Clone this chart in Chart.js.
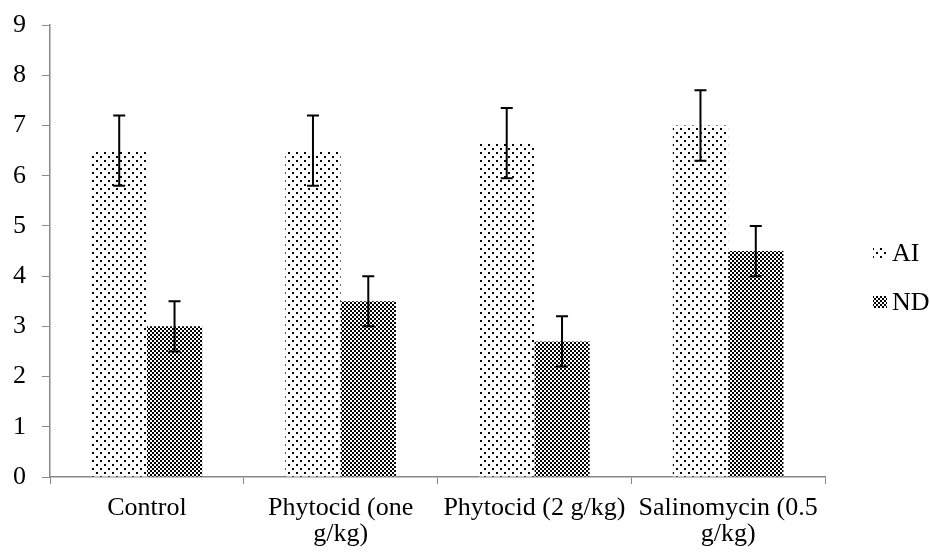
<!DOCTYPE html>
<html><head><meta charset="utf-8">
<script src="https://cdn.jsdelivr.net/npm/chart.js@4.4.0/dist/chart.umd.min.js"></script>
<style>html,body{margin:0;padding:0;background:#fff;}#wrap{width:930px;height:553px;}</style>
</head><body><div id="wrap"><canvas id="c" width="930" height="553"></canvas></div>
<script>
const categories = [["Control"], ["Phytocid (one", "g/kg)"], ["Phytocid (2 g/kg)"], ["Salinomycin (0.5", "g/kg)"]];
const seriesNames = ["AI", "ND"];
const aiValues = [6.5, 6.5, 6.65, 7.0];
const aiErrors = [0.7, 0.7, 0.7, 0.7];
const ndValues = [3.0, 3.5, 2.7, 4.5];
const ndErrors = [0.5, 0.5, 0.5, 0.5];
const yTicks = [0,1,2,3,4,5,6,7,8,9];

function dotPattern(){
  const t=document.createElement('canvas');t.width=8;t.height=8;const g=t.getContext('2d');
  g.fillStyle='#fff';g.fillRect(0,0,8,8);g.fillStyle='#000';
  g.fillRect(0,0,2,2);g.fillRect(4,4,2,2);
  return g.createPattern(t,'repeat');
}
function checkPattern(){
  const t=document.createElement('canvas');t.width=4;t.height=4;const g=t.getContext('2d');
  g.fillStyle='#fff';g.fillRect(0,0,4,4);g.fillStyle='#000';
  g.fillRect(0,0,2,2);g.fillRect(2,2,2,2);
  return g.createPattern(t,'repeat');
}
const ctx=document.getElementById('c').getContext('2d');
const errorsBySet=[aiErrors, ndErrors];
const FONT="'Liberation Serif','Times New Roman',serif";

const errPlugin={id:'err',afterDatasetsDraw(chart){
  const c=chart.ctx, y=chart.scales.y;
  c.save();c.strokeStyle='#000';c.lineWidth=2;
  chart.data.datasets.forEach((ds,di)=>{
    const meta=chart.getDatasetMeta(di);
    meta.data.forEach((bar,i)=>{
      const v=ds.data[i], e=errorsBySet[di][i];
      const x=bar.x, y1=y.getPixelForValue(v+e), y2=y.getPixelForValue(v-e);
      c.beginPath();c.moveTo(x,y1);c.lineTo(x,y2);
      c.moveTo(x-6,y1);c.lineTo(x+6,y1);c.moveTo(x-6,y2);c.lineTo(x+6,y2);c.stroke();
    });
  });
  c.restore();
}};
const legendPlugin={id:'lg',afterDraw(chart){
  const c=chart.ctx;c.save();
  c.font="26px "+FONT;c.textBaseline='middle';c.fillStyle='#000';
  const x0=873, ys=[253,302];
  chart.data.datasets.forEach((ds,i)=>{
    c.fillStyle=ds.backgroundColor;c.fillRect(x0,ys[i]-6,14,12);
    c.fillStyle='#000';c.fillText(ds.label,x0+19,ys[i]+1);
  });
  c.restore();
}};

new Chart(ctx,{
  type:'bar',
  data:{labels:categories,datasets:[
    {label:seriesNames[0],data:aiValues,backgroundColor:dotPattern(),borderWidth:0},
    {label:seriesNames[1],data:ndValues,backgroundColor:checkPattern(),borderWidth:0}
  ]},
  options:{
    responsive:false,animation:false,
    layout:{padding:{top:0,right:105,left:0,bottom:0}},
    datasets:{bar:{barPercentage:1,categoryPercentage:0.571}},
    plugins:{legend:{display:false},tooltip:{enabled:false}},
    scales:{
      x:{
        grid:{display:true,drawOnChartArea:false,offset:true,tickLength:7,color:'#888'},
        border:{color:'#888',width:1.5},
        ticks:{color:'#000',font:{family:FONT,size:26,lineHeight:1.0},padding:11,maxRotation:0,autoSkip:false},
        afterFit(s){s.height=76;}
      },
      y:{
        min:0,max:9,
        afterBuildTicks(s){s.ticks=yTicks.map(v=>({value:v}));},
        grid:{display:true,drawOnChartArea:false,tickLength:8,color:'#888'},
        border:{color:'#888',width:1.5},
        ticks:{color:'#000',font:{family:FONT,size:26,lineHeight:0.7},padding:16},
        afterFit(s){s.width=50;}
      }
    }
  },
  plugins:[errPlugin,legendPlugin]
});
</script></body></html>
